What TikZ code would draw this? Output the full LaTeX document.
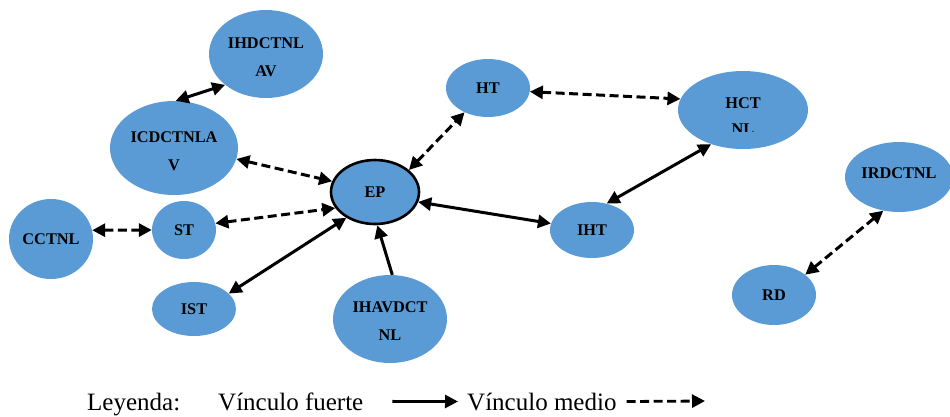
\documentclass[tikz,border=0pt]{standalone}
\usepackage{fontspec}
\setmainfont{Liberation Serif}
\usepackage{trimclip}
\usetikzlibrary{arrows.meta,shapes.geometric}
\definecolor{nodeblue}{HTML}{5B9BD5}
\begin{document}
\begin{tikzpicture}[x=1pt,y=-1pt,
  ent/.style={ellipse,fill=nodeblue,inner sep=0pt,align=center,
    font=\fontsize{16.3}{28}\selectfont\bfseries},
  tip/.tip={Triangle[length=13pt,width=13pt]},
  strong/.style={line width=3pt,tip-tip},
  medium/.style={strong,dash pattern=on 9pt off 4.5pt},
  single/.style={line width=3pt,-tip},
  legendtext/.style={inner sep=0pt,anchor=base west,font=\fontsize{25}{30}\selectfont}]
\useasboundingbox (0,0) rectangle (950,416);

\node[ent,minimum width=114pt,minimum height=88pt] (ihd) at (266,54) {\rule{0pt}{17pt}IHDCTNL\\AV};
\node[ent,minimum width=128pt,minimum height=94pt] (icd) at (174,148) {\rule{0pt}{17pt}ICDCTNLA\\V};
\node[ent,draw=black,line width=2.6pt,minimum width=88pt,minimum height=64pt] (ep) at (375,192) {EP};
\node[ent,minimum width=64pt,minimum height=58pt] (st) at (184,230) {ST};
\node[ent,minimum width=84pt,minimum height=80pt] (cc) at (51,239) {CCTNL};
\node[ent,minimum width=84pt,minimum height=54pt] (ist) at (194,309) {IST};
\node[ent,minimum width=114pt,minimum height=88pt] (ihav) at (390,319) {\rule{0pt}{15pt}IHAVDCT\\NL};
\node[ent,minimum width=84pt,minimum height=58pt] (ht) at (488,88) {HT};
\node[ent,minimum width=130pt,minimum height=78pt] (hct) at (743,110) {\rule{0pt}{20pt}HCT\\[-5pt]\clipbox{0pt 3pt 0pt 0pt}{NL}};
\node[ent,minimum width=84pt,minimum height=56pt] (iht) at (592,230) {IHT};
\node[ent,minimum width=108pt,minimum height=70pt,text depth=8pt] (ird) at (899,177) {IRDCTNL};
\node[ent,minimum width=84pt,minimum height=60pt] (rd) at (774,295) {RD};

\draw[strong] (ihd.217) -- (icd.88);
\draw[medium] (icd.-10) -- (ep.166);
\draw[medium] (st.12) -- (ep.202);
\draw[medium] (cc.12) -- (st.180);
\draw[strong] (ist.24) -- (ep.222);
\draw[single] (ihav.87) -- (ep.274);
\draw[strong] (ep.-13) -- (iht.171);
\draw[strong] (iht.61) -- (hct.227);
\draw[medium] (ep.33) -- (ht.226);
\draw[medium] (ht.-5) -- (hct.170);
\draw[medium] (ird.245) -- (rd.33);

\node[legendtext] (ley) at (87,410) {Leyenda:};
\node[legendtext] (vf) at (218,410) {Vínculo fuerte};
\node[legendtext] (vm) at (467,410) {Vínculo medio};
\coordinate (lend) at (705,401);
\draw[line width=2.8pt,-tip] ([xshift=29pt]vf.east) -- ([xshift=-9pt]vm.west);
\draw[line width=2.8pt,dash pattern=on 9pt off 4.5pt,-tip] ([xshift=10pt]vm.east) -- (lend);
\end{tikzpicture}
\end{document}
